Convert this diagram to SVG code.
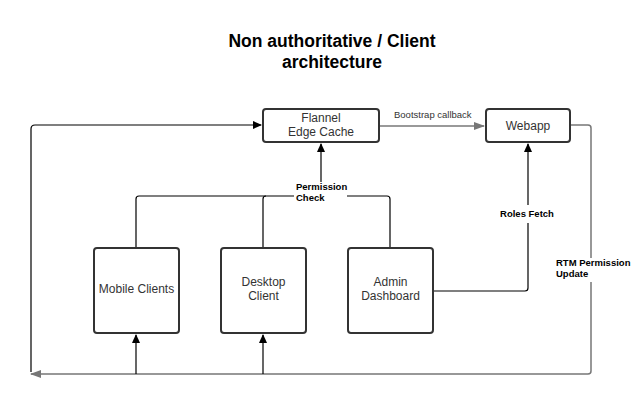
<svg xmlns="http://www.w3.org/2000/svg" width="640" height="406" viewBox="0 0 640 406">
<style>
.box{fill:#fff;stroke:#333;stroke-width:2}
.lbl{font-family:"Liberation Sans",Arial,sans-serif;font-size:12px;fill:#333;text-anchor:middle}
.c{fill:none;stroke:#000;stroke-width:1.2}
.g{fill:none;stroke:#777;stroke-width:1.5}
.el{font-family:"Liberation Sans",Arial,sans-serif;font-size:9.5px;font-weight:bold;fill:#000}
.er{font-family:"Liberation Sans",Arial,sans-serif;font-size:9.5px;fill:#333}
.t{font-family:"Liberation Sans",Arial,sans-serif;font-size:17.5px;font-weight:bold;fill:#000;text-anchor:middle}
</style>
<defs>
<marker id="ab" markerWidth="9" markerHeight="8" refX="8" refY="4" orient="auto" markerUnits="userSpaceOnUse"><path d="M0,0 L9,4 L0,8 z" fill="#000"/></marker>
<marker id="ag" markerWidth="11" markerHeight="8" refX="10" refY="4" orient="auto" markerUnits="userSpaceOnUse"><path d="M0,0 L11,4 L0,8 z" fill="#777"/></marker>
</defs>
<rect width="640" height="406" fill="#fff"/>
<text class="t" x="332" y="47">Non authoritative / Client</text>
<text class="t" x="332" y="68">architecture</text>
<g id="connectors">
<path class="g" d="M379,126 H484" marker-end="url(#ag)"/>
<text class="er" x="394" y="118">Bootstrap callback</text>
<path class="c" d="M136,248 V199 Q136,196 139,196 H294"/>
<path class="c" d="M347,196 H387 Q390,196 390,199 V248"/>
<path class="c" d="M263,248 V199 Q263,196 266,196"/>
<path class="c" d="M321,182 V144" marker-end="url(#ab)"/>
<text class="el" x="296" y="190">Permission</text>
<text class="el" x="296" y="201">Check</text>
<path class="c" d="M433,291 H525 Q528,291 528,288 V223"/>
<path class="c" d="M528,205 V144" marker-end="url(#ab)"/>
<text class="el" x="527" y="217" text-anchor="middle">Roles Fetch</text>
<path class="g" d="M570,125 H588 Q591,125 591,128 V258"/>
<path class="g" d="M591,282 V371 Q591,374 588,374 H31" marker-end="url(#ag)"/>
<text class="el" x="556" y="266">RTM Permission</text>
<text class="el" x="556" y="277">Update</text>
<path class="c" d="M31,372 V129 Q31,125 35,125 H261" marker-end="url(#ab)"/>
<path class="c" d="M136,374 V335" marker-end="url(#ab)"/>
<path class="c" d="M263,374 V335" marker-end="url(#ab)"/>
</g>
<g id="flannel"><rect class="box" x="263" y="109" width="116" height="33" rx="3"/><text class="lbl" x="321" y="122">Flannel</text><text class="lbl" x="321" y="136">Edge Cache</text></g>
<g id="webapp"><rect class="box" x="486" y="109" width="84" height="33" rx="3"/><text class="lbl" x="528" y="130">Webapp</text></g>
<g id="mobile"><rect class="box" x="94" y="248" width="85" height="85" rx="3"/><text class="lbl" x="136.5" y="293">Mobile Clients</text></g>
<g id="desktop"><rect class="box" x="221" y="248" width="85" height="85" rx="3"/><text class="lbl" x="263.5" y="286">Desktop</text><text class="lbl" x="263.5" y="300">Client</text></g>
<g id="admin"><rect class="box" x="348" y="248" width="85" height="85" rx="3"/><text class="lbl" x="390.5" y="286">Admin</text><text class="lbl" x="390.5" y="300">Dashboard</text></g>
</svg>
